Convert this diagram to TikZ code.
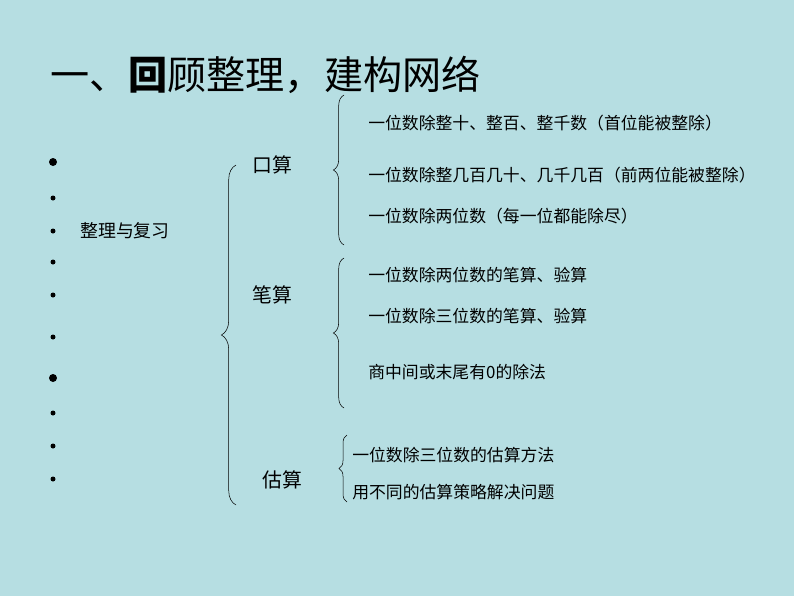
\documentclass[tikz,border=0pt]{standalone}
\usepackage{fontspec}
\setmainfont{Noto Sans CJK SC}
\usetikzlibrary{positioning}
\usetikzlibrary{decorations.pathreplacing}
\definecolor{bgteal}{RGB}{182,222,226}
\tikzset{item/.style={anchor=west,font=\fontsize{12.7}{14}\selectfont,inner sep=0pt}}
\tikzset{topic/.style={anchor=west,font=\fontsize{15}{17}\selectfont,inner sep=0pt}}
\tikzset{curly/.style={decorate,decoration={brace,amplitude=8pt},thin}}
\begin{document}
\begin{tikzpicture}[x=0.0265cm,y=-0.0265cm]
		\fill[bgteal] (0,0) rectangle (794,596);
		\node[anchor=west,inner sep=0pt,font=\fontsize{29.5}{32}\selectfont] (title) at (50,75) {一、\textbf{回}顾整理，建构网络};
		\foreach \y/\s in {162/4,198/2.5,231/2.5,262/2.5,295/2.5,337/2.5,378/4,413/2.5,446/2.5,479/2.5}
			\fill (53,\y) circle (\s);
		\node[anchor=west,inner sep=0pt,font=\fontsize{13.5}{16}\selectfont] (review) at (80,231) {整理与复习};
		\node[topic] (oral) at (252,165) {口算};
		\node[topic] (written) at (252,295) {笔算};
		\node[topic] (estimate) at (262,480) {估算};
		\node[item] (o1) at (368,123) {一位数除整十、整百、整千数（首位能被整除）};
		\node[item] (o2) at (368,175) {一位数除整几百几十、几千几百（前两位能被整除）};
		\node[item] (o3) at (368,216) {一位数除两位数（每一位都能除尽）};
		\node[item] (w1) at (368,275) {一位数除两位数的笔算、验算};
		\node[item] (w2) at (368,316) {一位数除三位数的笔算、验算};
		\node[item] (w3) at (368,372) {商中间或末尾有0的除法};
		\node[item] (e1) at (352,455) {一位数除三位数的估算方法};
		\node[item] (e2) at (352,492) {用不同的估算策略解决问题};
		% braces
		\draw[curly,decoration={amplitude=11pt}] (236,505) -- (236,165);
		\draw[curly] (344,245) -- (344,95);
		\draw[curly] (344,408) -- (344,258);
		\draw[curly,decoration={amplitude=6pt}] (347,502) -- (347,435);
\end{tikzpicture}
\end{document}
